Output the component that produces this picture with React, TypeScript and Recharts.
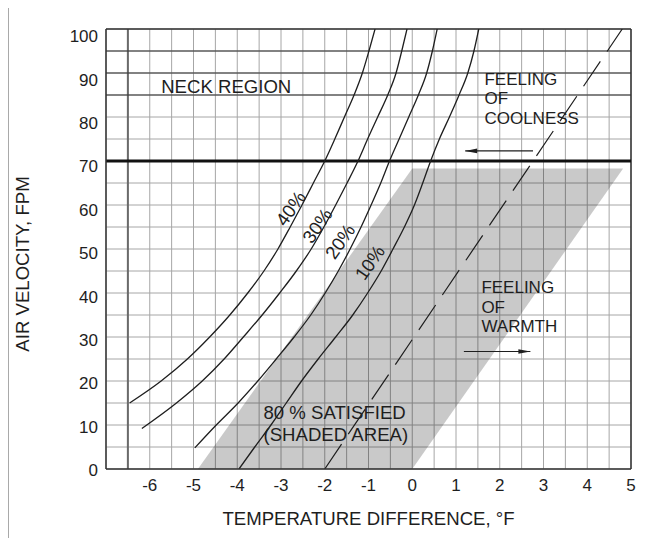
import React from 'react';
import { ComposedChart, Line, Area, Scatter, XAxis, YAxis, CartesianGrid, ReferenceLine, Label } from 'recharts';

// axis ticks (grid every 0.5 °F and 5 fpm, labels on whole numbers / tens)
const xTicks = [-7, -6.5, -6, -5.5, -5, -4.5, -4, -3.5, -3, -2.5, -2, -1.5, -1, -0.5, 0, 0.5, 1, 1.5, 2, 2.5, 3, 3.5, 4, 4.5, 5];
const yTicks = [0, 5, 10, 15, 20, 25, 30, 35, 40, 45, 50, 55, 60, 65, 70, 75, 80, 85, 90, 95, 100];

// percent-dissatisfied curves, [temp diff, air velocity]
const curve40: [number, number][] = [
  [-6.46, 15], [-5.74, 20], [-5.14, 25], [-4.63, 30], [-4.17, 35], [-3.76, 40], [-3.39, 45], [-3.07, 50],
  [-2.79, 55], [-2.52, 60], [-2.26, 65], [-2.0, 70], [-1.77, 75], [-1.55, 80], [-1.33, 85], [-1.14, 90],
  [-0.99, 95], [-0.85, 100],
];
const curve30: [number, number][] = [
  [-6.18, 9.2], [-5.39, 15], [-4.8, 20], [-4.3, 25], [-3.86, 30], [-3.43, 35], [-3.03, 40], [-2.65, 45],
  [-2.31, 50], [-2.02, 55], [-1.75, 60], [-1.49, 65], [-1.24, 70], [-1.02, 75], [-0.79, 80], [-0.56, 85],
  [-0.37, 90], [-0.24, 95], [-0.12, 100],
];
const curve20: [number, number][] = [
  [-4.97, 4.8], [-4.48, 10], [-3.98, 15], [-3.53, 20], [-3.11, 25], [-2.7, 30], [-2.32, 35], [-1.99, 40],
  [-1.69, 45], [-1.42, 50], [-1.17, 55], [-0.94, 60], [-0.72, 65], [-0.52, 70], [-0.3, 75], [-0.08, 80],
  [0.14, 85], [0.33, 90], [0.46, 95], [0.57, 100],
];
const curve10: [number, number][] = [
  [-3.96, 0], [-3.6, 5], [-3.23, 10], [-2.88, 15], [-2.53, 20], [-2.15, 25], [-1.75, 30], [-1.36, 35],
  [-1.02, 40], [-0.71, 45], [-0.44, 50], [-0.18, 55], [0.05, 60], [0.24, 65], [0.42, 70], [0.62, 75],
  [0.85, 80], [1.07, 85], [1.27, 90], [1.41, 95], [1.52, 100],
];
const neutralLine: [number, number][] = [[-2, 0], [4.8, 100]];

// 80 % satisfied band: x, [low, high]
const bandX = [-4.9, 0, 4.82];
const bandLow = [0, 0, 68.3];
const bandHigh = [0, 68.3, 68.3];

// arrows
const coolArrow: [number, number][] = [[2.76, 72.3], [1.21, 72.3]];
const warmArrow: [number, number][] = [[1.18, 26.7], [2.7, 26.7]];

// text notes (lines of each block, anchored at the first line)
const noteLines = [['NECK REGION'], ['FEELING', 'OF', 'COOLNESS'], ['FEELING', 'OF', 'WARMTH'], ['80 % SATISFIED', '(SHADED AREA)']];
const noteX = [-5.74, 1.65, 1.58, -3.4];
const noteY = [87, 88.75, 41.35, 12.8];
const noteGap = [0, 19.6, 19.6, 21.3];
const noteFont = [18.6, 17, 17, 18.6];

const curveLabels = ['40%', '30%', '20%', '10%'];
const curveLabelX = [-2.78, -2.17, -1.65, -0.97];
const curveLabelY = [59.2, 55.3, 51.7, 46.9];

const toPts = (arr: [number, number][]) => arr.map(([x, y]) => ({ x, y }));
const bandData = bandX.map((x, i) => ({ x, band: [bandLow[i], bandHigh[i]] }));
const notes = noteLines.map((lines, i) => ({ x: noteX[i], y: noteY[i], lines, gap: noteGap[i], size: noteFont[i] }));
const pctNotes = curveLabels.map((t, i) => ({ x: curveLabelX[i], y: curveLabelY[i], text: t }));

const INK = '#1e1e1e';
const TICK_FONT = 17;
const FONT = 18.6;

const YTick = (props: any) => {
  const { x, y, payload } = props;
  const v = payload.value;
  if (v % 10 !== 0) return <g />;
  return (
    <text x={x} y={y + 1 + v * 0.06} dy="0.36em" textAnchor="end" fontSize={TICK_FONT} fill={INK}>
      {v}
    </text>
  );
};

const XTick = (props: any) => {
  const { x, y, payload } = props;
  const v = payload.value;
  if (!Number.isInteger(v) || v === -7) return <g />;
  return (
    <text x={x} y={y} dy="0.71em" textAnchor="middle" fontSize={TICK_FONT} fill={INK}>
      {String(v)}
    </text>
  );
};

const YTitle = (props: any) => {
  const vb = props.viewBox || { x: 0, y: 29, height: 440 };
  const cx = vb.x + 22;
  const cy = vb.y + vb.height / 2 + 15;
  return (
    <text x={cx} y={cy} transform={`rotate(-90 ${cx} ${cy})`} textAnchor="middle" dominantBaseline="central" fontSize={FONT} fill={INK}>
      AIR VELOCITY, FPM
    </text>
  );
};

const NoteShape = (props: any) => {
  const { cx, cy, payload } = props;
  return (
    <text x={cx} y={cy + payload.size * 0.36} fontSize={payload.size} fill={INK}>
      {payload.lines.map((l: string, i: number) => (
        <tspan key={i} x={cx} dy={i === 0 ? 0 : payload.gap}>
          {l}
        </tspan>
      ))}
    </text>
  );
};

const PctShape = (props: any) => (
  <text
    x={props.cx}
    y={props.cy}
    transform={`rotate(-55 ${props.cx} ${props.cy})`}
    textAnchor="middle"
    dominantBaseline="central"
    fontSize={FONT}
    fill={INK}
  >
    {props.payload.text}
  </text>
);

const arrowHead = (dir: number) => (props: any) => {
  const { cx, cy, index } = props;
  if (index !== 1) return <g key={`a${index}`} />;
  const b = cx - dir * 12;
  return <polygon key={`a${index}`} points={`${cx},${cy} ${b},${cy - 2.3} ${b},${cy + 2.3}`} fill={INK} />;
};

export default function App() {
  return (
    <div style={{ position: 'relative', width: 662, height: 546, margin: -8, fontFamily: '"Liberation Sans", Arial, sans-serif', background: '#fff' }}>
      <div style={{ position: 'absolute', left: 7, top: 3, right: 0, bottom: 0, borderLeft: '2px solid #a9a9a9', borderTop: '2px solid #a9a9a9' }} />
      <div style={{ position: 'absolute', left: 0, top: 0 }}>
        <ComposedChart width={662} height={546} margin={{ top: 29, right: 31, bottom: 0, left: 0 }}>
          <CartesianGrid stroke="#a6a6a6" strokeWidth={1} />
          <XAxis
            type="number"
            dataKey="x"
            domain={[-7, 5]}
            ticks={xTicks}
            interval={0}
            allowDataOverflow
            height={77}
            tickSize={0}
            tickMargin={10}
            tickLine={false}
            tick={<XTick />}
            axisLine={{ stroke: '#333', strokeWidth: 1.5 }}
          >
            <Label value="TEMPERATURE DIFFERENCE, °F" position="insideBottom" offset={21} style={{ fontSize: FONT, fill: INK }} />
          </XAxis>
          <YAxis
            type="number"
            dataKey="y"
            domain={[0, 100]}
            ticks={yTicks}
            interval={0}
            allowDataOverflow
            width={106}
            tickSize={0}
            tickMargin={8}
            tickLine={false}
            tick={<YTick />}
            axisLine={{ stroke: '#333', strokeWidth: 1.5 }}
          >
            <Label content={<YTitle />} />
          </YAxis>

          <Area data={bandData} dataKey="band" type="linear" stroke="none" fill="#000" fillOpacity={0.21} isAnimationActive={false} />

          <ReferenceLine x={-6.5} stroke="#6a6a6a" strokeWidth={2} />
          <ReferenceLine y={85} stroke="#333" strokeWidth={1.2} />
          <ReferenceLine y={90} stroke="#333" strokeWidth={1.2} />
          <ReferenceLine y={95} stroke="#333" strokeWidth={1.2} />
          <ReferenceLine y={100} stroke="#333" strokeWidth={1.5} />
          <ReferenceLine x={5} stroke="#333" strokeWidth={1.5} />
          <ReferenceLine y={70} stroke="#111" strokeWidth={3} />

          <Line data={toPts(curve40)} dataKey="y" type="monotone" stroke={INK} strokeWidth={1.3} dot={false} isAnimationActive={false} />
          <Line data={toPts(curve30)} dataKey="y" type="monotone" stroke={INK} strokeWidth={1.3} dot={false} isAnimationActive={false} />
          <Line data={toPts(curve20)} dataKey="y" type="monotone" stroke={INK} strokeWidth={1.3} dot={false} isAnimationActive={false} />
          <Line data={toPts(curve10)} dataKey="y" type="monotone" stroke={INK} strokeWidth={1.3} dot={false} isAnimationActive={false} />
          <Line data={toPts(neutralLine)} dataKey="y" type="linear" stroke={INK} strokeWidth={1.2} strokeDasharray="30 12" dot={false} isAnimationActive={false} />

          <Line data={toPts(coolArrow)} dataKey="y" type="linear" stroke={INK} strokeWidth={1.2} dot={arrowHead(-1)} isAnimationActive={false} />
          <Line data={toPts(warmArrow)} dataKey="y" type="linear" stroke={INK} strokeWidth={1.2} dot={arrowHead(1)} isAnimationActive={false} />

          <Scatter data={notes} dataKey="y" shape={<NoteShape />} isAnimationActive={false} />
          <Scatter data={pctNotes} dataKey="y" shape={<PctShape />} isAnimationActive={false} />
        </ComposedChart>
      </div>
    </div>
  );
}
